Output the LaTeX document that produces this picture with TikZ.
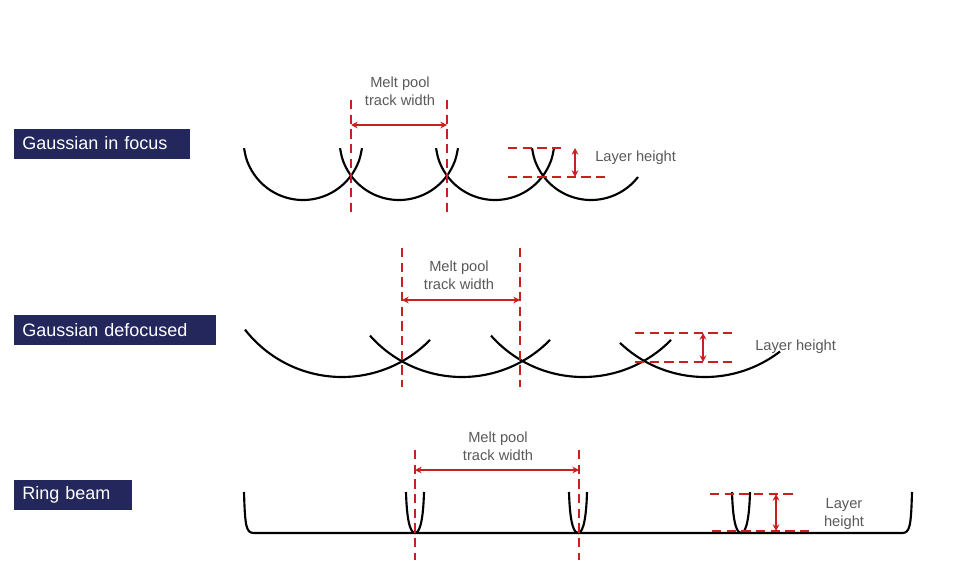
\documentclass[tikz,border=0pt]{standalone}
\usepackage{fontspec}
\setmainfont{Liberation Sans}
\usetikzlibrary{arrows.meta}
\definecolor{navy}{HTML}{23275C}
\definecolor{rd}{HTML}{C8201E}
\definecolor{txt}{HTML}{595959}
\begin{document}
\begin{tikzpicture}[x=0.75pt,y=-0.75pt,
  lab/.style={fill=navy,text=white,font=\fontsize{13.5}{16}\selectfont,inner xsep=6pt,inner ysep=0pt,anchor=west,minimum height=22.5pt,align=left},
  note/.style={text=txt,font=\fontsize{11}{13.5}\selectfont,align=center,inner sep=0pt},
  pool/.style={black,line width=1.6pt},
  rdash/.style={rd,line width=1.4pt,dash pattern=on 7pt off 4pt},
  rarrow/.style={rd,line width=1.4pt,{Stealth[length=5pt,width=5pt]}-{Stealth[length=5pt,width=5pt]}}]
\useasboundingbox (0,0) rectangle (959,560);
% labels
\node[lab,text width=120pt] (l1) at (14,143.5) {Gaussian in focus};
\node[lab,text width=139pt] (l2) at (14,330) {Gaussian defocused};
\node[lab,text width=76pt] (l3) at (14,495) {Ring beam};
% row 1
\foreach \c in {303,399,495}
  \draw[pool] plot[domain={\c-59}:{\c+59},samples=60,smooth] (\x,{140.5+sqrt(max(0,3540-(\x-\c)^2))});
\draw[pool] plot[domain=532:638,samples=60,smooth] (\x,{140.5+sqrt(max(0,3540-(\x-591)^2))});
\coordinate (a1t) at (351,100); \coordinate (a1b) at (351,213);
\coordinate (b1t) at (447,100); \coordinate (b1b) at (447,213);
\draw[rdash] (a1t) -- (a1b);
\draw[rdash] (b1t) -- (b1b);
\coordinate (w1l) at (351,125); \coordinate (w1r) at (447,125);
\draw[rarrow] (w1l) -- (w1r);
\node[note] (t1) at (400,91) {Melt pool\\track width};
\coordinate (h1a) at (508,148); \coordinate (h1b) at (566,148);
\coordinate (h1c) at (508,177); \coordinate (h1d) at (608,177);
\draw[rdash] (h1a) -- (h1b);
\draw[rdash] (h1c) -- (h1d);
\coordinate (v1t) at (575,148); \coordinate (v1b) at (575,177);
\draw[rarrow] (v1t) -- (v1b);
\node[note,anchor=west] (lh1) at (595,158) {Layer height};
% row 2
\draw[pool] plot[domain=245:430,samples=60,smooth] (\x,{254+sqrt(max(0,15129-(\x-342)^2))});
\foreach \c in {462,583}
  \draw[pool] plot[domain={\c-92}:{\c+88},samples=60,smooth] (\x,{254+sqrt(max(0,15129-(\x-\c)^2))});
\draw[pool] plot[domain=620:780,samples=60,smooth] (\x,{254+sqrt(max(0,15129-(\x-705)^2))});
\coordinate (a2t) at (402,248); \coordinate (a2b) at (402,387);
\coordinate (b2t) at (520,248); \coordinate (b2b) at (520,387);
\draw[rdash] (a2t) -- (a2b);
\draw[rdash] (b2t) -- (b2b);
\coordinate (w2l) at (402,300); \coordinate (w2r) at (520,300);
\draw[rarrow] (w2l) -- (w2r);
\node[note] (t2) at (459,275) {Melt pool\\track width};
\coordinate (h2a) at (635,333); \coordinate (h2b) at (735,333);
\coordinate (h2c) at (635,362); \coordinate (h2d) at (735,362);
\draw[rdash] (h2a) -- (h2b);
\draw[rdash] (h2c) -- (h2d);
\coordinate (v2t) at (703,333); \coordinate (v2b) at (703,362);
\draw[rarrow] (v2t) -- (v2b);
\node[note,anchor=west] (lh2) at (755,347) {Layer height};
% row 3
\draw[pool] (244,492) .. controls (245,526) and (246,533) .. (254,533) -- (902,533) .. controls (910,533) and (911,526) .. (912,492);
\foreach \c in {415,578,741}
  \draw[pool] ({\c-9},492) .. controls ({\c-8},528) and ({\c-3},533) .. (\c,533) .. controls ({\c+3},533) and ({\c+8},528) .. ({\c+9},492);
\coordinate (a3t) at (415,450); \coordinate (a3b) at (415,560);
\coordinate (b3t) at (579,450); \coordinate (b3b) at (579,560);
\draw[rdash] (a3t) -- (a3b);
\draw[rdash] (b3t) -- (b3b);
\coordinate (w3l) at (415,470); \coordinate (w3r) at (579,470);
\draw[rarrow] (w3l) -- (w3r);
\node[note] (t3) at (498,446) {Melt pool\\track width};
\coordinate (h3a) at (710,494); \coordinate (h3b) at (796,494);
\coordinate (h3c) at (712,531); \coordinate (h3d) at (810,531);
\draw[rdash] (h3a) -- (h3b);
\draw[rdash] (h3c) -- (h3d);
\coordinate (v3t) at (776,494); \coordinate (v3b) at (776,531);
\draw[rarrow] (v3t) -- (v3b);
\node[note] (lh3) at (844,514) {Layer\\height};
\end{tikzpicture}
\end{document}
